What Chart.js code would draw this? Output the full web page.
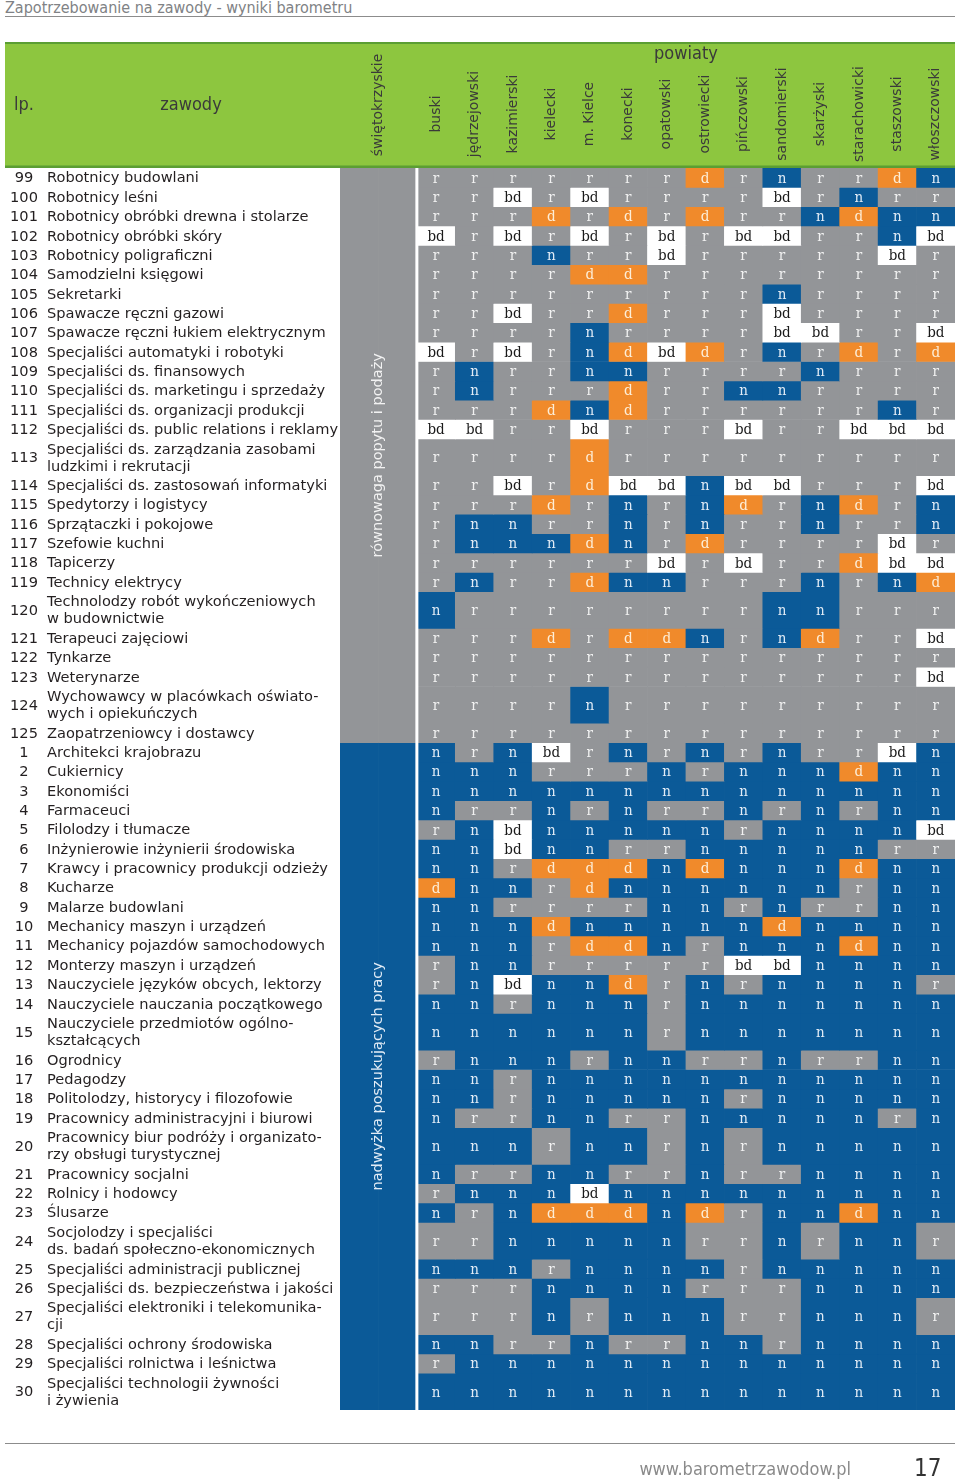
<!DOCTYPE html>
<html lang="pl">
<head>
<meta charset="utf-8">
<title>Zapotrzebowanie na zawody - wyniki barometru</title>
<script src="https://cdn.jsdelivr.net/npm/chart.js@4.4.1/dist/chart.umd.min.js"></script>
<style>
  html, body { margin: 0; padding: 0; background: #fff; }
  body { width: 960px; height: 1479px; position: relative; overflow: hidden; }
  #tabela { position: absolute; left: 0; top: 0; }
  .title {
    position: absolute; left: 5px; top: -2px; line-height: 17px;
    font: 16px "Liberation Sans Narrow", "DejaVu Sans Condensed", sans-serif;
    color: #808285; white-space: nowrap;
  }
  .rule { position: absolute; left: 5px; width: 950px; height: 0; border-top: 1.5px solid #8c8c8c; }
  .url {
    position: absolute; right: 109px; top: 1458px; line-height: 20px;
    font: 18px "Liberation Sans Narrow", "DejaVu Sans Condensed", sans-serif; color: #8a8a8a;
  }
  .page {
    position: absolute; left: 914px; top: 1454px; line-height: 26px;
    font: 24px "Liberation Sans Narrow", "DejaVu Sans Condensed", sans-serif; color: #333;
  }
</style>
</head>
<body>
<div class="title">Zapotrzebowanie na zawody - wyniki barometru</div>
<div class="rule" style="top:16px"></div>
<canvas id="tabela" width="960" height="1479"></canvas>
<div class="rule" style="top:1443px"></div>
<div class="url">www.barometrzawodow.pl</div>
<div class="page">17</div>

<script>
/* =============== Data =============== */
const powiaty = [
  "buski", "jędrzejowski", "kazimierski", "kielecki", "m. Kielce", "konecki", "opatowski",
  "ostrowiecki", "pińczowski", "sandomierski", "skarżyski", "starachowicki", "staszowski", "włoszczowski"
];

const lp = [
  99, 100, 101, 102, 103, 104, 105, 106, 107, 108, 109, 110, 111, 112, 113, 114, 115, 116, 117,
  118, 119, 120, 121, 122, 123, 124, 125,
  1, 2, 3, 4, 5, 6, 7, 8, 9, 10, 11, 12, 13, 14, 15, 16, 17, 18, 19, 20, 21, 22, 23, 24, 25,
  26, 27, 28, 29, 30
];

// two-line names are kept as arrays of lines
const zawody = [
  "Robotnicy budowlani",
  "Robotnicy leśni",
  "Robotnicy obróbki drewna i stolarze",
  "Robotnicy obróbki skóry",
  "Robotnicy poligraficzni",
  "Samodzielni księgowi",
  "Sekretarki",
  "Spawacze ręczni gazowi",
  "Spawacze ręczni łukiem elektrycznym",
  "Specjaliści automatyki i robotyki",
  "Specjaliści ds. finansowych",
  "Specjaliści ds. marketingu i sprzedaży",
  "Specjaliści ds. organizacji produkcji",
  "Specjaliści ds. public relations i reklamy",
  ["Specjaliści ds. zarządzania zasobami", "ludzkimi i rekrutacji"],
  "Specjaliści ds. zastosowań informatyki",
  "Spedytorzy i logistycy",
  "Sprzątaczki i pokojowe",
  "Szefowie kuchni",
  "Tapicerzy",
  "Technicy elektrycy",
  ["Technolodzy robót wykończeniowych", "w budownictwie"],
  "Terapeuci zajęciowi",
  "Tynkarze",
  "Weterynarze",
  ["Wychowawcy w placówkach oświato-", "wych i opiekuńczych"],
  "Zaopatrzeniowcy i dostawcy",
  "Architekci krajobrazu",
  "Cukiernicy",
  "Ekonomiści",
  "Farmaceuci",
  "Filolodzy i tłumacze",
  "Inżynierowie inżynierii środowiska",
  "Krawcy i pracownicy produkcji odzieży",
  "Kucharze",
  "Malarze budowlani",
  "Mechanicy maszyn i urządzeń",
  "Mechanicy pojazdów samochodowych",
  "Monterzy maszyn i urządzeń",
  "Nauczyciele języków obcych, lektorzy",
  "Nauczyciele nauczania początkowego",
  ["Nauczyciele przedmiotów ogólno-", "kształcących"],
  "Ogrodnicy",
  "Pedagodzy",
  "Politolodzy, historycy i filozofowie",
  "Pracownicy administracyjni i biurowi",
  ["Pracownicy biur podróży i organizato-", "rzy obsługi turystycznej"],
  "Pracownicy socjalni",
  "Rolnicy i hodowcy",
  "Ślusarze",
  ["Socjolodzy i specjaliści", "ds. badań społeczno-ekonomicznych"],
  "Specjaliści administracji publicznej",
  "Specjaliści ds. bezpieczeństwa i jakości",
  ["Specjaliści elektroniki i telekomunika-", "cji"],
  "Specjaliści ochrony środowiska",
  "Specjaliści rolnictwa i leśnictwa",
  ["Specjaliści technologii żywności", "i żywienia"]
];

// świętokrzyskie (whole region) per row
const wojewodztwo = [
  "r", "r", "r", "r", "r", "r", "r", "r", "r", "r", "r", "r", "r", "r", "r", "r", "r", "r",
  "r", "r", "r", "r", "r", "r", "r", "r", "r",
  "n", "n", "n", "n", "n", "n", "n", "n", "n", "n", "n", "n", "n", "n", "n", "n", "n", "n",
  "n", "n", "n", "n", "n", "n", "n", "n", "n", "n", "n", "n"
];

// powiaty, one string per row, same order as the powiaty array
const oceny = [
  "r r r r r r r d r n r r d n",
  "r r bd r bd r r r r bd r n r r",
  "r r r d r d r d r r n d n n",
  "bd r bd r bd r bd r bd bd r r n bd",
  "r r r n r r bd r r r r r bd r",
  "r r r r d d r r r r r r r r",
  "r r r r r r r r r n r r r r",
  "r r bd r r d r r r bd r r r r",
  "r r r r n r r r r bd bd r r bd",
  "bd r bd r n d bd d r n r d r d",
  "r n r r n n r r r r n r r r",
  "r n r r r d r r n n r r r r",
  "r r r d n d r r r r r r n r",
  "bd bd r r bd r r r bd r r bd bd bd",
  "r r r r d r r r r r r r r r",
  "r r bd r d bd bd n bd bd r r r bd",
  "r r r d r n r n d r n d r n",
  "r n n r r n r n r r n r r n",
  "r n n n d n r d r r r r bd r",
  "r r r r r r bd r bd r r d bd bd",
  "r n r r d n n r r r n r n d",
  "n r r r r r r r r n n r r r",
  "r r r d r d d n r n d r r bd",
  "r r r r r r r r r r r r r r",
  "r r r r r r r r r r r r r bd",
  "r r r r n r r r r r r r r r",
  "r r r r r r r r r r r r r r",
  "n r n bd r n r n r n r r bd n",
  "n n n r r r n r n n n d n n",
  "n n n n n n n n n n n n n n",
  "n r r n r n r r n r n r n n",
  "r n bd n n n n n r n n n n bd",
  "n n bd n n r r n n n n n r r",
  "n n r d d d n d n n n d n n",
  "d n n r d n n n n n n r n n",
  "n n r r r r n n r n r r n n",
  "n n n d n n n n n d n n n n",
  "n n n r d d n r n n n d n n",
  "r n n r r r r r bd bd n n n n",
  "r n bd n n d r n r n n n n r",
  "n n r n n n r n n n n n n n",
  "n n n n n n r n n n n n n n",
  "r n n n r n n r r n r r n n",
  "n n r n n n n n n n n n n n",
  "n n r n n n n n r n n n n n",
  "n r r n n r r n n n n n r n",
  "n n n r n n r n r n n n n n",
  "n r r n n r r n r r n n n n",
  "r n n n bd n n n n n n n n n",
  "n r n d d d n d r n n d n n",
  "r r n n n n n r r n r n n r",
  "n n n r n n n n r n n n n n",
  "r r r n n n n r r r n n n n",
  "r r r n r n n n r r n n n r",
  "n n r r n r r n n r n n n n",
  "r n n n n n n n n n n n n n",
  "n n n n n n n n n n n n n n"
].map(s => s.split(" "));

const opisy = { r: "równowaga popytu i podaży", n: "nadwyżka poszukujących pracy" };

/* =============== Style =============== */
const kolory = { r: "#939598", n: "#0b5a98", d: "#f08a2b", bd: "#ffffff" };
const koloryTekstu = { r: "#f2f2f2", n: "#e2ecf6", d: "#fdeed8", bd: "#1a1a1a" };
const zielony = "#8dc63f";
const ciemnyZielony = "#5b9e33";
const fontSans = '"DejaVu Sans", Verdana, sans-serif';
const fontSerif = '"DejaVu Serif Condensed", "DejaVu Serif", serif';
const fontNarrow = '"Liberation Sans Narrow", "DejaVu Sans Condensed", sans-serif';

/* =============== Layout of rows =============== */
const rowLines = zawody.map(z => Array.isArray(z) ? z : [z]);
const rowEdges = [];
let acc = 0;
for (const lines of rowLines) {
  const w = lines.length > 1 ? 1.9 : 1;
  rowEdges.push([acc, acc + w]);
  acc += w;
}
const totalRows = acc;

// two slots for the region column, then one per powiat
const slots = ["świętokrzyskie", "", ...powiaty];

/* =============== Datasets =============== */
const barBase = {
  grouped: false,
  barPercentage: 1,
  categoryPercentage: 1,
  borderWidth: 0
};

const datasets = [];

// region column: one bar per run of equal values
let runStart = 0;
for (let i = 1; i <= wojewodztwo.length; i++) {
  if (i === wojewodztwo.length || wojewodztwo[i] !== wojewodztwo[runStart]) {
    const v = wojewodztwo[runStart];
    const span = [rowEdges[runStart][0], rowEdges[i - 1][1]];
    datasets.push({
      ...barBase,
      label: "świętokrzyskie",
      kind: "region",
      value: v,
      data: slots.map((_, c) => c < 2 ? span : null),
      backgroundColor: kolory[v]
    });
    runStart = i;
  }
}

oceny.forEach((row, i) => {
  datasets.push({
    ...barBase,
    label: String(lp[i]),
    kind: "row",
    row: i,
    data: slots.map((_, c) => c < 2 ? null : rowEdges[i]),
    backgroundColor: slots.map((_, c) => c < 2 ? "transparent" : kolory[row[c - 2]])
  });
});

/* =============== Drawing plugin =============== */
function rotatedText(ctx, text, x, y) {
  ctx.save();
  ctx.translate(x, y);
  ctx.rotate(-Math.PI / 2);
  ctx.fillText(text, 0, 0);
  ctx.restore();
}

const tablePlugin = {
  id: "tabela",
  beforeDraw(chart) {
    const ctx = chart.ctx;
    ctx.save();
    ctx.fillStyle = zielony;
    ctx.fillRect(5, 43, 950, 123);
    ctx.fillStyle = ciemnyZielony;
    ctx.fillRect(5, 42, 950, 2);
    ctx.fillRect(5, 165.5, 950, 2.5);
    ctx.restore();
  },
  afterDatasetsDraw(chart) {
    const ctx = chart.ctx;
    const xs = chart.scales.x;
    const ys = chart.scales.y;
    const area = chart.chartArea;
    ctx.save();

    // white gap between the region column and powiaty
    const gapX = (xs.getPixelForValue(1) + xs.getPixelForValue(2)) / 2;
    ctx.fillStyle = "#ffffff";
    ctx.fillRect(gapX - 1.5, area.top, 3, area.bottom - area.top);

    // cell letters
    ctx.textAlign = "center";
    ctx.textBaseline = "middle";
    ctx.font = "15px " + fontSerif;
    chart.data.datasets.forEach((ds, di) => {
      if (ds.kind !== "row") return;
      const meta = chart.getDatasetMeta(di);
      oceny[ds.row].forEach((v, c) => {
        const el = meta.data[c + 2];
        ctx.fillStyle = koloryTekstu[v];
        ctx.fillText(v, el.x, (el.y + el.base) / 2 + 1);
      });
    });

    // region column descriptions
    ctx.font = "14.5px " + fontSans;
    chart.data.datasets.forEach((ds, di) => {
      if (ds.kind !== "region") return;
      const meta = chart.getDatasetMeta(di);
      const a = meta.data[0], b = meta.data[1];
      ctx.fillStyle = koloryTekstu[ds.value];
      rotatedText(ctx, opisy[ds.value] || "", (a.x + b.x) / 2, (a.y + a.base) / 2);
    });

    // row numbers and names
    ctx.fillStyle = "#231f20";
    rowLines.forEach((lines, i) => {
      const yc = ys.getPixelForValue((rowEdges[i][0] + rowEdges[i][1]) / 2);
      ctx.font = "14.6px " + fontSans;
      ctx.textAlign = "center";
      ctx.fillText(String(lp[i]), 24, yc + 1);
      ctx.textAlign = "left";
      const lh = 17;
      lines.forEach((t, k) => {
        ctx.fillText(t, 47, yc + (k - (lines.length - 1) / 2) * lh + 1);
      });
    });

    // header texts
    ctx.fillStyle = "#3a3a3a";
    ctx.font = "18px " + fontNarrow;
    ctx.textAlign = "left";
    ctx.fillText("lp.", 14, 105);
    ctx.textAlign = "center";
    ctx.fillText("zawody", 191, 105);
    ctx.fillText("powiaty", (xs.getPixelForValue(2) + xs.getPixelForValue(slots.length - 1)) / 2, 54);

    ctx.font = "14px " + fontSans;
    rotatedText(ctx, slots[0], (xs.getPixelForValue(0) + xs.getPixelForValue(1)) / 2, 105);
    powiaty.forEach((p, c) => {
      rotatedText(ctx, p, xs.getPixelForValue(c + 2), 114);
    });

    ctx.restore();
  }
};

/* =============== Chart =============== */
new Chart(document.getElementById("tabela"), {
  type: "bar",
  data: { labels: slots, datasets },
  options: {
    responsive: false,
    animation: false,
    events: [],
    layout: { padding: { left: 340, right: 5, top: 168, bottom: 69 } },
    plugins: { legend: { display: false }, tooltip: { enabled: false } },
    scales: {
      x: { type: "category", display: false, offset: true },
      y: { type: "linear", display: false, min: 0, max: totalRows, reverse: true }
    }
  },
  plugins: [tablePlugin]
});
</script>
</body>
</html>
